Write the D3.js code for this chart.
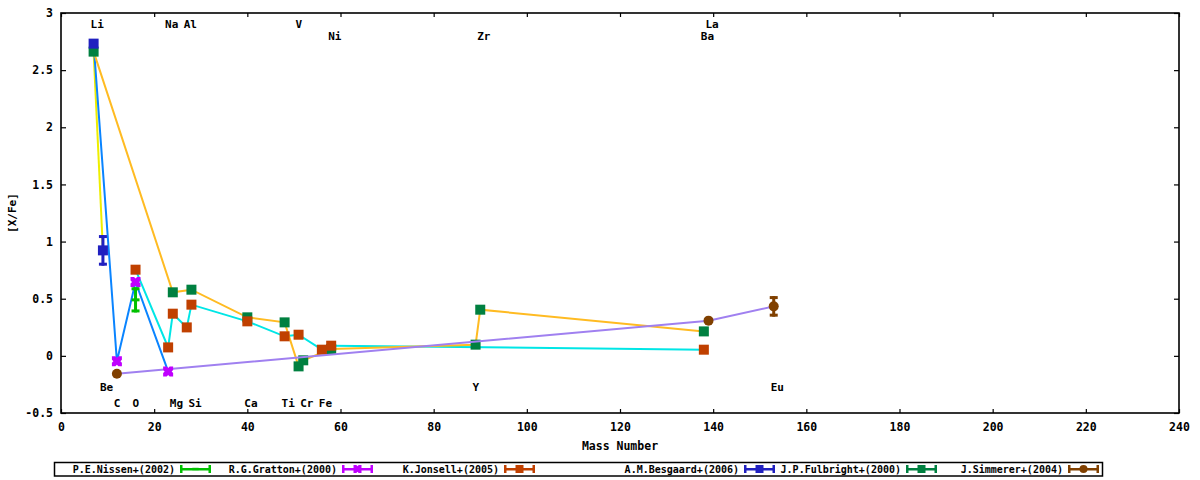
<!DOCTYPE html>
<html>
<head>
<meta charset="utf-8">
<script src="https://cdn.jsdelivr.net/npm/d3@7"></script>
<style>
  body { margin: 0; background: #fff; }
  text { font-family: "DejaVu Sans Mono", monospace; font-weight: bold; fill: #000; }
</style>
</head>
<body>
<div id="chart"></div>
<script>
// measured values, [mass number, [X/Fe], error]
const nissen = [[16, 0.49, 0.11]];
const gratton = [[12, -0.048, 0], [16, 0.647, 0], [23, -0.136, 0]];
const jonsell = [[16, 0.754, 0], [23, 0.074, 0], [24, 0.369, 0], [27, 0.249, 0], [28, 0.448, 0],
  [40, 0.302, 0], [48, 0.171, 0], [51, 0.185, 0], [56, 0.054, 0], [58, 0.089, 0], [138, 0.054, 0]];
const besgaard = [[7, 2.732, 0], [9, 0.923, 0.134]];
const fulbright = [[7, 2.662, 0], [24, 0.556, 0], [28, 0.579, 0], [40, 0.337, 0], [48, 0.293, 0],
  [51, -0.092, 0], [52, -0.039, 0], [58, 0.06, 0], [89, 0.098, 0], [90, 0.404, 0], [138, 0.214, 0]];
const simmerer = [[12, -0.156, 0], [139, 0.308, 0], [153, 0.433, 0.09]];

// connecting lines
const lineYellow = [[7, 2.662], [9, 0.923]];
const lineBlue = [[7, 2.732], [12, -0.048], [16, 0.647], [23, -0.136]];
const lineCyan = jonsell.map(d => [d[0], d[1]]);
const lineAmber = fulbright.map(d => [d[0], d[1]]);
const linePurple = simmerer.map(d => [d[0], d[1]]);

// element labels: name, mass, row
const elementNames = ["Li", "Na", "Al", "V", "La", "Ni", "Zr", "Ba", "Be", "Y", "Eu",
  "C", "O", "Mg", "Si", "Ca", "Ti", "Cr", "Fe"];
const elementMass = [7, 23, 27, 51, 139, 58, 90, 138, 9, 89, 153,
  12, 16, 24, 28, 40, 48, 52, 56];
const elementRow = [0, 0, 0, 0, 0, 1, 1, 1, 2, 2, 2,
  3, 3, 3, 3, 3, 3, 3, 3];
const rowY = [2.9, 2.8, -0.27, -0.41];

const legendNames = ["P.E.Nissen+(2002)", "R.G.Gratton+(2000)", "K.Jonsell+(2005)",
  "A.M.Besgaard+(2006)", "J.P.Fulbright+(2000)", "J.Simmerer+(2004)"];

const xTicks = d3.range(0, 241, 20);
const yTicks = [-0.5, 0, 0.5, 1, 1.5, 2, 2.5, 3];

let margin = { top: 13, right: 21, bottom: 67, left: 61 },
  width = 1200 - margin.left - margin.right,
  height = 480 - margin.top - margin.bottom;

let svgRoot = d3.select("#chart")
  .append("svg")
  .attr("width", 1200)
  .attr("height", 480);

let svg = svgRoot.append("g")
  .attr("transform", "translate(" + margin.left + "," + margin.top + ")");

let x = d3.scaleLinear().domain([0, 240]).range([0, width]);
let y = d3.scaleLinear().domain([-0.5, 3]).range([height, 0]);

// axes, ticks pointing inwards on all four sides
svg.append("g")
  .attr("class", "xaxis")
  .attr("transform", "translate(0," + height + ")")
  .call(d3.axisBottom(x).tickValues(xTicks).tickSize(-4).tickPadding(10).tickFormat(d3.format("d")));
svg.append("g")
  .attr("class", "yaxis")
  .call(d3.axisLeft(y).tickValues(yTicks).tickSize(-5).tickPadding(8).tickFormat(d => String(d)));
svg.append("g")
  .call(d3.axisTop(x).tickValues(xTicks).tickSize(-4).tickFormat(""));
svg.append("g")
  .attr("transform", "translate(" + width + ",0)")
  .call(d3.axisRight(y).tickValues(yTicks).tickSize(-5).tickFormat(""));

svg.selectAll(".domain").remove();
svg.selectAll(".tick line").attr("stroke", "#000").attr("stroke-width", 1.2);
svg.selectAll(".xaxis text, .yaxis text")
  .style("font-size", "11.5px")
  .style("font-family", "DejaVu Sans Mono")
  .style("font-weight", "bold");

svg.append("rect")
  .attr("width", width)
  .attr("height", height)
  .attr("fill", "none")
  .attr("stroke", "#000")
  .attr("stroke-width", 1.6);

// axis titles
svg.append("text")
  .attr("x", width / 2)
  .attr("y", height + 37)
  .style("text-anchor", "middle")
  .style("font-size", "11.5px")
  .text("Mass Number");

svg.append("text")
  .attr("transform", "rotate(-90)")
  .attr("x", -height / 2)
  .attr("y", -49)
  .attr("dy", "0.35em")
  .style("text-anchor", "middle")
  .style("font-size", "11px")
  .text("[X/Fe]");

// element labels
svg.selectAll(".elem")
  .data(elementNames)
  .enter()
  .append("text")
  .attr("class", "elem")
  .attr("x", (d, i) => x(elementMass[i] - 0.65))
  .attr("y", (d, i) => y(rowY[elementRow[i]]))
  .attr("dy", "0.36em")
  .style("font-size", "11px")
  .text(d => d);

let line = d3.line().x(d => x(d[0])).y(d => y(d[1]));

function drawLine(data, color) {
  svg.append("path")
    .datum(data)
    .attr("d", line)
    .attr("fill", "none")
    .attr("stroke", color)
    .attr("stroke-width", 2);
}

function drawMarker(g, shape, color) {
  if (shape === "square") {
    g.append("rect").attr("x", -5).attr("y", -5).attr("width", 10).attr("height", 10).attr("fill", color);
  } else if (shape === "circle") {
    g.append("circle").attr("r", 5).attr("fill", color);
  } else if (shape === "plus") {
    g.append("rect").attr("x", -4).attr("y", -1.5).attr("width", 8).attr("height", 3).attr("fill", color);
  } else if (shape === "xbox") {
    g.append("path")
      .attr("d", "M-5,-5L-1.5,-5L0,-3.5L1.5,-5L5,-5L5,-1.5L3.5,0L5,1.5L5,5L1.5,5L0,3.5L-1.5,5L-5,5L-5,1.5L-3.5,0L-5,-1.5Z")
      .attr("fill", color);
  }
}

function drawSeries(data, color, shape) {
  let u = svg.selectAll(null)
    .data(data)
    .enter()
    .append("g")
    .attr("transform", d => "translate(" + x(d[0]) + "," + y(d[1]) + ")");

  // error bars where given
  u.filter(d => d[2] > 0).each(function (d) {
    let g = d3.select(this);
    let top = y(d[1] + d[2]) - y(d[1]);
    let bot = y(d[1] - d[2]) - y(d[1]);
    g.append("rect").attr("x", -1.5).attr("y", top).attr("width", 3).attr("height", bot - top).attr("fill", color);
    g.append("rect").attr("x", -4).attr("y", top).attr("width", 8).attr("height", 3).attr("fill", color);
    g.append("rect").attr("x", -4).attr("y", bot - 3).attr("width", 8).attr("height", 3).attr("fill", color);
  });

  u.each(function () { drawMarker(d3.select(this), shape, color); });
}

drawLine(lineYellow, "#eeee00");
drawLine(lineBlue, "#0a84ff");
drawLine(lineCyan, "#00e6e6");
drawLine(lineAmber, "#ffbb22");

drawSeries(fulbright, "#008040", "square");
drawSeries(jonsell, "#c04000", "square");
drawSeries(besgaard, "#2020c0", "square");

drawLine(linePurple, "#a080f0");

drawSeries(simmerer, "#804000", "circle");
drawSeries(nissen, "#00c000", "plus");
drawSeries(gratton, "#c000ff", "xbox");

// legend
const legendColors = ["#00c000", "#c000ff", "#c04000", "#2020c0", "#008040", "#804000"];
const legendShapes = ["plus", "xbox", "square", "square", "square", "circle"];

let legend = svgRoot.append("g");
legend.append("rect")
  .attr("x", 54.5)
  .attr("y", 462.5)
  .attr("width", 1048)
  .attr("height", 13.5)
  .attr("fill", "#fff")
  .attr("stroke", "#000")
  .attr("stroke-width", 1.5);

legendNames.forEach((name, i) => {
  let sx = 180 + i * 162 + (i >= 3 ? 78 : 0);
  let cy = 469;
  legend.append("text")
    .attr("x", sx - 5)
    .attr("y", cy)
    .attr("dy", "0.36em")
    .style("text-anchor", "end")
    .style("font-size", "10px")
    .text(name);
  let g = legend.append("g").attr("transform", "translate(" + sx + "," + cy + ")");
  g.append("rect").attr("x", 0).attr("y", -1).attr("width", 31).attr("height", 2.5).attr("fill", legendColors[i]);
  g.append("rect").attr("x", 0).attr("y", -4).attr("width", 2.5).attr("height", 8).attr("fill", legendColors[i]);
  g.append("rect").attr("x", 28.5).attr("y", -4).attr("width", 2.5).attr("height", 8).attr("fill", legendColors[i]);
  let m = g.append("g").attr("transform", "translate(15.5,0) scale(0.8)");
  drawMarker(m, legendShapes[i], legendColors[i]);
});
</script>
</body>
</html>
